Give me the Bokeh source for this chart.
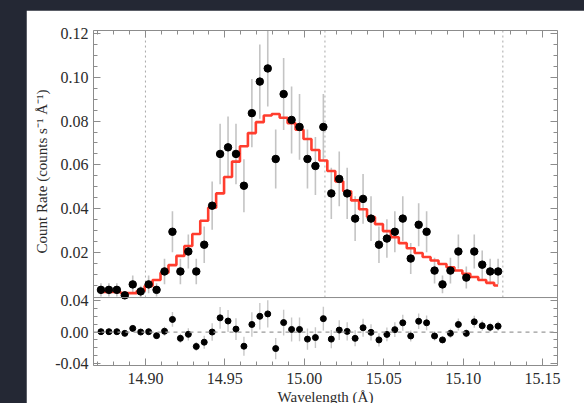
from bokeh.plotting import figure
from bokeh.models import (ColumnDataSource, FixedTicker, LinearAxis, Range1d,
                          Span, Title, PrintfTickFormatter, CustomLabelingPolicy)
from bokeh.embed import file_html
from bokeh.resources import INLINE

# Binned spectrum around the 15.01 A line
wavelength = [14.872, 14.877, 14.882, 14.887, 14.892, 14.897, 14.902, 14.907,
              14.912, 14.917, 14.922, 14.927, 14.932, 14.937, 14.942, 14.947,
              14.952, 14.957, 14.962, 14.967, 14.972, 14.977, 14.982, 14.987,
              14.992, 14.997, 15.002, 15.007, 15.012, 15.017, 15.022, 15.027,
              15.032, 15.037, 15.042, 15.047, 15.052, 15.057, 15.062, 15.067,
              15.072, 15.077, 15.082, 15.087, 15.092, 15.097, 15.102, 15.107,
              15.112, 15.117, 15.122]

rate = [0.0030, 0.0030, 0.0030, 0.0005, 0.0055, 0.0023, 0.0055, 0.0030,
        0.0114, 0.0295, 0.0114, 0.0205, 0.0114, 0.0236, 0.0414, 0.0650,
        0.0680, 0.0650, 0.0505, 0.0836, 0.0980, 0.1040, 0.0627, 0.0923,
        0.0805, 0.0773, 0.0627, 0.0595, 0.0773, 0.0470, 0.0536, 0.0470,
        0.0355, 0.0445, 0.0355, 0.0236, 0.0264, 0.0295, 0.0355, 0.0173,
        0.0327, 0.0295, 0.0118, 0.0055, 0.0118, 0.0205, 0.0086, 0.0205,
        0.0145, 0.0114, 0.0114]

rate_err = [0.0030, 0.0030, 0.0030, 0.0020, 0.0040, 0.0026, 0.0040, 0.0030,
            0.0058, 0.0093, 0.0058, 0.0077, 0.0058, 0.0083, 0.0110, 0.0138,
            0.0141, 0.0138, 0.0121, 0.0156, 0.0169, 0.0174, 0.0135, 0.0164,
            0.0153, 0.0150, 0.0135, 0.0132, 0.0150, 0.0117, 0.0125, 0.0117,
            0.0102, 0.0114, 0.0102, 0.0083, 0.0088, 0.0093, 0.0102, 0.0071,
            0.0098, 0.0093, 0.0059, 0.0040, 0.0059, 0.0077, 0.0050, 0.0077,
            0.0065, 0.0058, 0.0058]

model = [0.0020, 0.0020, 0.0020, 0.0015, 0.0015, 0.0025, 0.0048, 0.0075,
         0.0108, 0.0143, 0.0185, 0.0230, 0.0285, 0.0345, 0.0405, 0.0470,
         0.0545, 0.0615, 0.0685, 0.0745, 0.0795, 0.0825, 0.0832, 0.0815,
         0.0790, 0.0760, 0.0718, 0.0668, 0.0620, 0.0572, 0.0525, 0.0480,
         0.0438, 0.0398, 0.0362, 0.0330, 0.0298, 0.0270, 0.0243, 0.0220,
         0.0198, 0.0180, 0.0164, 0.0148, 0.0133, 0.0118, 0.0103, 0.0089,
         0.0075, 0.0062, 0.0050]

residual = [0.0004, 0.0004, 0.0004, -0.0017, 0.0046, 0.0000, 0.0004, -0.0046,
            0.0010, 0.0160, -0.0080, -0.0029, -0.0183, -0.0129, 0.0000, 0.0180,
            0.0140, 0.0037, -0.0180, 0.0096, 0.0200, 0.0230, -0.0210, 0.0120,
            0.0033, 0.0033, -0.0090, -0.0070, 0.0170, -0.0090, 0.0025, 0.0008,
            -0.0080, 0.0054, -0.0004, -0.0100, -0.0030, 0.0030, 0.0117, -0.0050,
            0.0137, 0.0117, -0.0050, -0.0100, -0.0017, 0.0096, -0.0017, 0.0130,
            0.0080, 0.0060, 0.0075]

marker_lines = [14.900, 15.013, 15.125]
x_ticks = [14.90, 14.95, 15.00, 15.05, 15.10, 15.15]
x_minor = [14.87, 14.88, 14.89, 14.91, 14.92, 14.93, 14.94, 14.96, 14.97,
           14.98, 14.99, 15.01, 15.02, 15.03, 15.04, 15.06, 15.07, 15.08,
           15.09, 15.11, 15.12, 15.13, 15.14]
rate_ticks = [0.02, 0.04, 0.06, 0.08, 0.10, 0.12]
rate_minor = [0.005, 0.010, 0.015, 0.025, 0.030, 0.035, 0.045, 0.050, 0.055,
              0.065, 0.070, 0.075, 0.085, 0.090, 0.095, 0.105, 0.110, 0.115]
resid_ticks = [-0.04, 0.0, 0.04]
resid_labels = ["-0.04", "0.00", "0.04"]
resid_minor = [-0.03, -0.02, -0.01, 0.01, 0.02, 0.03]

FONT = "Liberation Serif"
AXIS_COLOR = "#8c8c8c"
LABEL_COLOR = "#2b2b2b"

# One frame holds both panels: the rate panel occupies the upper part of the
# main y range, the residual panel sits on its own range at the bottom.
FRAME_W, FRAME_H = 464, 335
X_START, X_END = 14.8673, 15.1594
PANEL_FLOOR = -0.0005             # bottom edge of the rate panel
Y_START, Y_END = -0.0315, 0.1213  # main range (rate units)
R_START, R_END = -0.0425, 0.3829  # residual range


def resid_to_main(r):
    return Y_START + (r - R_START) * (Y_END - Y_START) / (R_END - R_START)


src = ColumnDataSource(dict(
    x=wavelength, rate=rate, model=model, resid=residual,
    lo=[max(r - e, PANEL_FLOOR) for r, e in zip(rate, rate_err)],
    hi=[r + e for r, e in zip(rate, rate_err)],
    rlo=[r - e for r, e in zip(residual, rate_err)],
    rhi=[r + e for r, e in zip(residual, rate_err)],
))

p = figure(frame_width=FRAME_W, frame_height=FRAME_H,
           x_range=Range1d(X_START, X_END), y_range=Range1d(Y_START, Y_END),
           x_axis_location=None, y_axis_location=None,
           min_border_left=67, min_border_right=27, min_border_top=20,
           min_border_bottom=38, output_backend="svg", toolbar_location=None,
           background_fill_color="white", border_fill_color="white",
           outline_line_color=None, margin=(10, 0, 0, 26))
p.extra_y_ranges = {"resid": Range1d(R_START, R_END)}
p.grid.visible = False

y_major = rate_ticks + [resid_to_main(t) for t in resid_ticks]
y_minor = rate_minor + [resid_to_main(t) for t in resid_minor]
y_overrides = {resid_to_main(t): lab for t, lab in zip(resid_ticks, resid_labels)}

# ticks only, no labels, on the top and right edges
no_labels = CustomLabelingPolicy(code="""
try { indices.clear() } catch (e) { for (const i of [...indices]) indices.unset(i) }
return indices
""")


def style_axis(ax):
    ax.axis_line_color = AXIS_COLOR
    ax.major_tick_line_color = AXIS_COLOR
    ax.minor_tick_line_color = AXIS_COLOR
    ax.major_tick_in = 7
    ax.major_tick_out = 0
    ax.minor_tick_in = 4
    ax.minor_tick_out = 0
    ax.major_label_text_font = FONT
    ax.major_label_text_font_size = "16px"
    ax.major_label_text_color = LABEL_COLOR


def blank_labels(ax):
    ax.major_label_policy = no_labels
    ax.major_label_text_font_size = "1px"
    ax.major_label_standoff = 0


def axis_title(text, align, offset, standoff):
    return Title(text=text, align=align, offset=offset, standoff=standoff,
                 text_font=FONT, text_font_size="15px",
                 text_font_style="normal", text_color=LABEL_COLOR)


ax = LinearAxis(ticker=FixedTicker(ticks=x_ticks, minor_ticks=x_minor),
                formatter=PrintfTickFormatter(format="%.2f"))
style_axis(ax)
ax.major_label_standoff = 7
p.add_layout(ax, "below")
p.add_layout(axis_title("Wavelength (\u00c5)", "center", 0, 0), "below")

ax = LinearAxis(ticker=FixedTicker(ticks=x_ticks, minor_ticks=x_minor))
style_axis(ax)
blank_labels(ax)
p.add_layout(ax, "above")

ax = LinearAxis(ticker=FixedTicker(ticks=y_major, minor_ticks=y_minor),
                formatter=PrintfTickFormatter(format="%.2f"),
                major_label_overrides=y_overrides)
style_axis(ax)
ax.major_label_standoff = 5
p.add_layout(ax, "left")
# y title sits alongside the rate panel, starting above the residual panel
p.add_layout(axis_title("Count Rate (counts s\u207b\u00b9 \u00c5\u207b\u00b9)",
                        "left", 112, 6), "left")

ax = LinearAxis(ticker=FixedTicker(ticks=y_major, minor_ticks=y_minor))
style_axis(ax)
blank_labels(ax)
p.add_layout(ax, "right")

# Boundary between the two panels
p.add_layout(Span(location=PANEL_FLOOR, dimension="width",
                  line_color=AXIS_COLOR, line_width=1))

# ---- rate panel ----
p.segment(x0=marker_lines, y0=[PANEL_FLOOR] * len(marker_lines),
          x1=marker_lines, y1=[Y_END] * len(marker_lines),
          line_color="#a8a8a8", line_dash="2 3", line_width=1)
p.segment(x0="x", y0="lo", x1="x", y1="hi", source=src,
          line_color="#c4c4c4", line_width=1.6)
p.step(x="x", y="model", source=src, mode="center",
       line_color="#ff3d2e", line_width=2.6)
p.scatter(x="x", y="rate", source=src, size=7.5,
          fill_color="black", line_color="black")

# ---- residual panel ----
p.add_layout(Span(location=0, dimension="width", y_range_name="resid",
                  line_color="#9a9a9a", line_dash="4 4", line_width=1.2))
p.segment(x0="x", y0="rlo", x1="x", y1="rhi", source=src, y_range_name="resid",
          line_color="#c8c8c8", line_width=1.4)
p.scatter(x="x", y="resid", source=src, y_range_name="resid", size=6,
          fill_color="black", line_color="black")

html = file_html(p, INLINE, title="Line profile")
html = html.replace(
    "</head>",
    "<style>html, body { background: #242834; margin: 0; overflow: hidden; }</style></head>", 1)
with open("out.html", "w") as f:
    f.write(html)
